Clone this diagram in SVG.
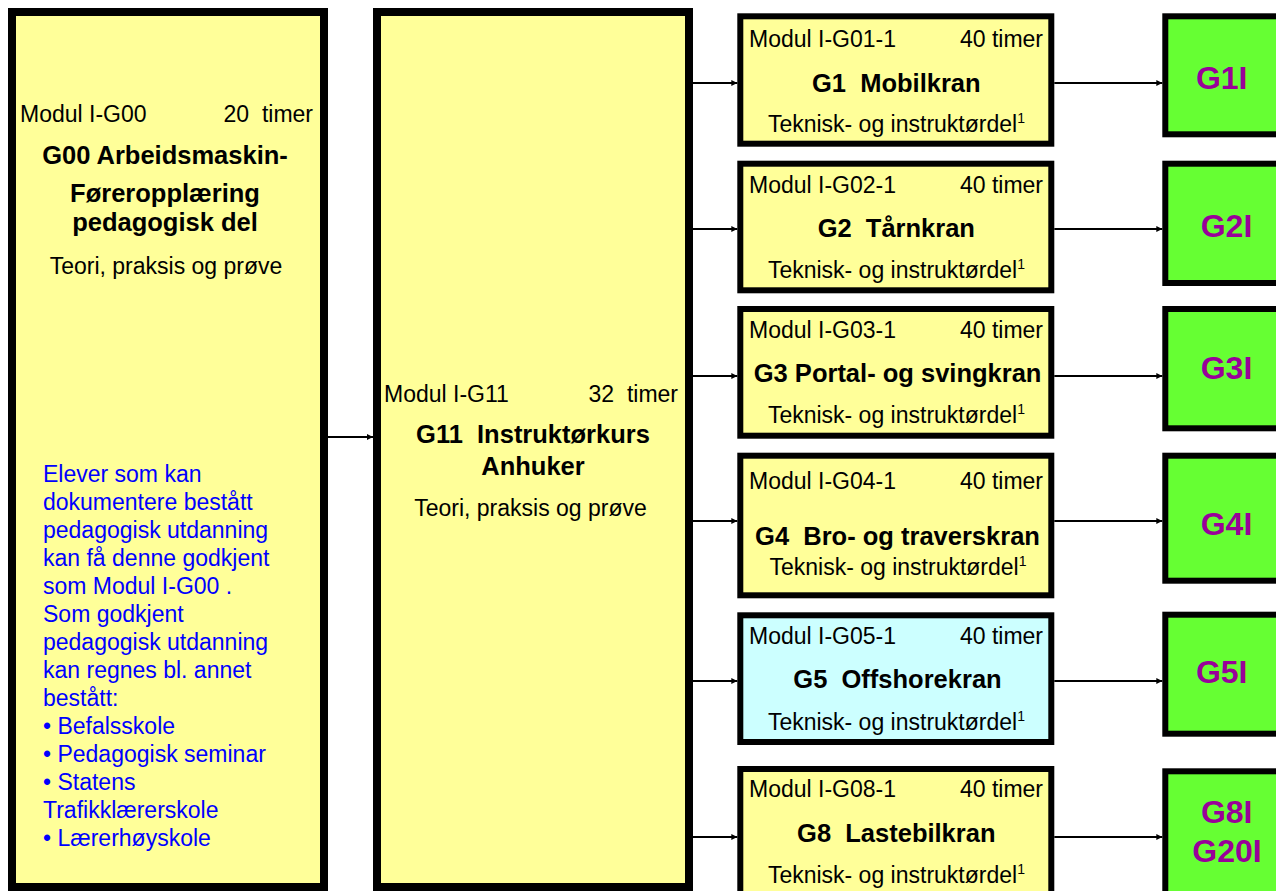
<svg xmlns="http://www.w3.org/2000/svg" width="1276" height="891" viewBox="0 0 1276 891">
<style>
text { font-family: "Liberation Sans", Arial, sans-serif; white-space: pre; fill: #000; }
.big { stroke: #000; stroke-width: 8; fill: #FFFF99; }
.mod { stroke: #000; stroke-width: 6; fill: #FFFF99; }
.cyan { fill: #CCFFFF; }
.grn { stroke: #000; stroke-width: 6; fill: #66FF33; }
.reg { font-size: 23px; }
.bold { font-size: 25.5px; font-weight: bold; }
.blue { font-size: 23px; fill: #0000FF; }
.gt { font-size: 32px; font-weight: bold; fill: #990099; text-anchor: middle; }
.mid { text-anchor: middle; }
.end { text-anchor: end; }
.sup { font-size: 14px; }
.conn line { stroke: #000; stroke-width: 2; }
</style>
<defs>
<marker id="arr" markerWidth="7" markerHeight="7" refX="6" refY="3" orient="auto" markerUnits="userSpaceOnUse">
<path d="M0,0 L6,3 L0,6 z" fill="#000"/>
</marker>
</defs>
<rect width="1276" height="891" fill="#fff"/>

<g id="g00">
<rect class="big" x="12" y="12" width="312" height="875"/>
<text class="reg" x="20" y="121.7">Modul I-G00</text>
<text class="reg end" x="313" y="121.7">20  timer</text>
<text class="bold mid" x="165" y="163.5">G00 Arbeidsmaskin-</text>
<text class="bold mid" x="165" y="201.5">Føreropplæring</text>
<text class="bold mid" x="165" y="231">pedagogisk del</text>
<text class="reg mid" x="166" y="274">Teori, praksis og prøve</text>
<text class="blue" x="43" y="482">Elever som kan</text>
<text class="blue" x="43" y="510">dokumentere bestått</text>
<text class="blue" x="43" y="538">pedagogisk utdanning</text>
<text class="blue" x="43" y="566">kan få denne godkjent</text>
<text class="blue" x="43" y="594">som Modul I-G00 .</text>
<text class="blue" x="43" y="622">Som godkjent</text>
<text class="blue" x="43" y="650">pedagogisk utdanning</text>
<text class="blue" x="43" y="678">kan regnes bl. annet</text>
<text class="blue" x="43" y="706">bestått:</text>
<text class="blue" x="43" y="734">• Befalsskole</text>
<text class="blue" x="43" y="762">• Pedagogisk seminar</text>
<text class="blue" x="43" y="790">• Statens</text>
<text class="blue" x="43" y="818">Trafikklærerskole</text>
<text class="blue" x="43" y="846">• Lærerhøyskole</text>
</g>

<g id="g11">
<rect class="big" x="377" y="12" width="312" height="875"/>
<text class="reg" x="384" y="402">Modul I-G11</text>
<text class="reg end" x="678" y="402">32  timer</text>
<text class="bold mid" x="533" y="443">G11  Instruktørkurs</text>
<text class="bold mid" x="533" y="475">Anhuker</text>
<text class="reg mid" x="530.5" y="516">Teori, praksis og prøve</text>
</g>

<g id="g1">
<rect class="mod" x="740.3" y="16.3" width="311" height="127.4"/>
<text class="reg" x="749" y="46.7">Modul I-G01-1</text>
<text class="reg end" x="1043" y="46.7">40 timer</text>
<text class="bold mid" x="896.3" y="91.5">G1  Mobilkran</text>
<text class="reg mid" x="896.4" y="131.7">Teknisk- og instruktørdel<tspan class="sup" dy="-9">1</tspan></text>
</g>

<g id="g2">
<rect class="mod" x="740.3" y="163.7" width="311" height="126.6"/>
<text class="reg" x="749" y="192.7">Modul I-G02-1</text>
<text class="reg end" x="1043" y="192.7">40 timer</text>
<text class="bold mid" x="896.3" y="236.7">G2  Tårnkran</text>
<text class="reg mid" x="896.4" y="278.3">Teknisk- og instruktørdel<tspan class="sup" dy="-9">1</tspan></text>
</g>

<g id="g3">
<rect class="mod" x="740.3" y="309" width="311" height="126.7"/>
<text class="reg" x="749" y="337.7">Modul I-G03-1</text>
<text class="reg end" x="1043" y="337.7">40 timer</text>
<text class="bold mid" x="897.6" y="381.7">G3 Portal- og svingkran</text>
<text class="reg mid" x="896.4" y="423.3">Teknisk- og instruktørdel<tspan class="sup" dy="-9">1</tspan></text>
</g>

<g id="g4">
<rect class="mod" x="740.3" y="455.7" width="311" height="139.6"/>
<text class="reg" x="749" y="489.3">Modul I-G04-1</text>
<text class="reg end" x="1043" y="489.3">40 timer</text>
<text class="bold mid" x="897.5" y="545">G4  Bro- og traverskran</text>
<text class="reg mid" x="898" y="575">Teknisk- og instruktørdel<tspan class="sup" dy="-9">1</tspan></text>
</g>

<g id="g5">
<rect class="mod cyan" x="740.3" y="615.3" width="311" height="126.7"/>
<text class="reg" x="749" y="644">Modul I-G05-1</text>
<text class="reg end" x="1043" y="644">40 timer</text>
<text class="bold mid" x="897.5" y="688.3">G5  Offshorekran</text>
<text class="reg mid" x="896.4" y="730">Teknisk- og instruktørdel<tspan class="sup" dy="-9">1</tspan></text>
</g>

<g id="g8">
<rect class="mod" x="740.3" y="769" width="311" height="128"/>
<text class="reg" x="749" y="797.3">Modul I-G08-1</text>
<text class="reg end" x="1043" y="797.3">40 timer</text>
<text class="bold mid" x="896.3" y="841.7">G8  Lastebilkran</text>
<text class="reg mid" x="896.4" y="883.3">Teknisk- og instruktørdel<tspan class="sup" dy="-9">1</tspan></text>
</g>

<g id="g1i">
<rect class="grn" x="1165.3" y="16.3" width="130" height="118"/>
<text class="gt" x="1221.7" y="89.3">G1I</text>
</g>
<g id="g2i">
<rect class="grn" x="1165.3" y="163.7" width="130" height="119.3"/>
<text class="gt" x="1226.5" y="237">G2I</text>
</g>
<g id="g3i">
<rect class="grn" x="1165.3" y="309" width="130" height="119.3"/>
<text class="gt" x="1226.5" y="379.3">G3I</text>
</g>
<g id="g4i">
<rect class="grn" x="1165.3" y="455.7" width="130" height="125"/>
<text class="gt" x="1226.5" y="535">G4I</text>
</g>
<g id="g5i">
<rect class="grn" x="1165.3" y="614.7" width="130" height="119"/>
<text class="gt" x="1221.7" y="682.7">G5I</text>
</g>
<g id="g8i">
<rect class="grn" x="1165.3" y="771.3" width="130" height="130"/>
<text class="gt" x="1226.7" y="822.7">G8I</text>
<text class="gt" x="1227" y="861.7">G20I</text>
</g>

<g id="connectors" class="conn">
<line x1="328" y1="437" x2="373" y2="437" marker-end="url(#arr)"/>
<line x1="693" y1="83" x2="737.3" y2="83" marker-end="url(#arr)"/>
<line x1="693" y1="229" x2="737.3" y2="229" marker-end="url(#arr)"/>
<line x1="693" y1="376" x2="737.3" y2="376" marker-end="url(#arr)"/>
<line x1="693" y1="521" x2="737.3" y2="521" marker-end="url(#arr)"/>
<line x1="693" y1="681" x2="737.3" y2="681" marker-end="url(#arr)"/>
<line x1="693" y1="837" x2="737.3" y2="837" marker-end="url(#arr)"/>
<line x1="1054.3" y1="83" x2="1162.3" y2="83" marker-end="url(#arr)"/>
<line x1="1054.3" y1="229" x2="1162.3" y2="229" marker-end="url(#arr)"/>
<line x1="1054.3" y1="376" x2="1162.3" y2="376" marker-end="url(#arr)"/>
<line x1="1054.3" y1="521" x2="1162.3" y2="521" marker-end="url(#arr)"/>
<line x1="1054.3" y1="681" x2="1162.3" y2="681" marker-end="url(#arr)"/>
<line x1="1054.3" y1="837" x2="1162.3" y2="837" marker-end="url(#arr)"/>
</g>
</svg>
